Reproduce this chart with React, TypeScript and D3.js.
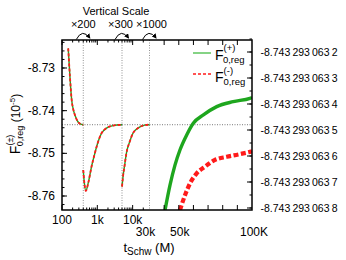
import * as d3 from "d3";

// early part, unscaled (left axis, units of 1e-5)
const seg1T = [150, 168, 188, 210, 232, 282, 330, 400];
const seg1F = [-8.7254, -8.7321, -8.7375, -8.7398, -8.741, -8.7426, -8.7431, -8.7433];

// x200 part (displayed values)
const seg2T = [400, 425, 474, 551, 686, 850, 1053, 1313, 1816, 2786, 5000];
const seg2F = [-8.7539, -8.7566, -8.7588, -8.757, -8.7531, -8.75, -8.7473, -8.7453, -8.7441, -8.7435, -8.7433];

// x300 part (displayed values)
const seg3T = [5000, 5330, 5950, 6650, 8240, 10200, 14100, 21800, 27000, 30000];
const seg3F = [-8.7578, -8.7555, -8.7527, -8.75, -8.7473, -8.7453, -8.7441, -8.7434, -8.7433, -8.7433];

// x1000 part, read on the right axis
const plusT = [40600, 44000, 47400, 50800, 55400, 59900, 66800, 75900, 87200, 98600, 100000];
const plusF = [
  -8.743293063808, -8.743293063712, -8.743293063635, -8.743293063577, -8.743293063519,
  -8.743293063474, -8.743293063442, -8.74329306341, -8.743293063391, -8.743293063378,
  -8.743293063375,
];
const minusT = [50800, 54300, 57700, 62200, 67900, 74700, 82700, 90700, 98600, 100000];
const minusF = [
  -8.743293063808, -8.74329306375, -8.743293063705, -8.743293063667, -8.743293063641,
  -8.743293063615, -8.743293063603, -8.743293063594, -8.743293063584, -8.743293063582,
];

const asymptote = -8.7432930635;

const leftTicks = [-8.73, -8.74, -8.75, -8.76];
const leftTickLabels = ["-8.73", "-8.74", "-8.75", "-8.76"];
const rightTicks = [
  -8.7432930632, -8.7432930633, -8.7432930634, -8.7432930635, -8.7432930636, -8.7432930637,
  -8.7432930638,
];
const rightTickLabels = [
  "-8.743 293 063 2", "-8.743 293 063 3", "-8.743 293 063 4", "-8.743 293 063 5",
  "-8.743 293 063 6", "-8.743 293 063 7", "-8.743 293 063 8",
];

const xMajor = [100, 1000, 10000, 40000, 50000, 60000, 70000, 80000, 90000];
const xMinor = [200, 300, 400, 500, 600, 700, 800, 900, 2000, 3000, 4000, 5000, 6000, 7000, 8000, 9000, 20000];
const xRow1 = [100, 1000, 10000];
const xRow1Labels = ["100", "1k", "10k"];
const xRow2 = [30000, 50000, 100000];
const xRow2Labels = ["30k", "50k", "100K"];

const breakT = [400, 5000, 30000];
const breakLabels = ["×200", "×300", "×1000"];

const W = 346;
const H = 260;
const L = 62;
const R = 252;
const T = 40;
const B = 210;
const font = "'Liberation Sans', Arial, Helvetica, sans-serif";

const xLog = d3.scaleLog().domain([100, 30000]).range([L, 149.5]);
const xLin = d3.scaleLinear().domain([30000, 100000]).range([149.5, R]);
const x = (t: number) => (t <= 30000 ? xLog(t) : xLin(t));

const yLeft = d3.scaleLinear().domain([-8.76328, -8.72344]).range([B, T]);
const yRight = d3
  .scaleLinear()
  .domain([-8.7432930638077, -8.7432930631538])
  .range([B, T]);

const green = "#1ea61e";
const red = "#ff1a1a";

function pathOf(ts: number[], fs: number[], y: (v: number) => number) {
  const line = d3
    .line<number>()
    .x((_, i) => x(ts[i]))
    .y((d) => y(d))
    .curve(d3.curveMonotoneX);
  return line(fs) || "";
}

export default function App() {
  const leftMinor = d3.range(-8.762, -8.7235, 0.002);
  const rightMinor = d3.range(0, 14).map((i) => -8.74329306315 - i * 0.5e-10);

  const early = [
    pathOf(seg1T, seg1F, yLeft),
    pathOf(seg2T, seg2F, yLeft),
    pathOf(seg3T, seg3F, yLeft),
  ];
  const plusPath = pathOf(plusT, plusF, yRight);
  const minusPath = pathOf(minusT, minusF, yRight);
  const labelShift = [0, -1.5, 2];

  return (
    <div style={{ position: "absolute", left: 0, top: 0 }}>
      <svg width={W} height={H} fontFamily={font}>
        <defs>
          <clipPath id="plot">
            <rect x={L} y={T} width={R - L} height={B - T} />
          </clipPath>
          <marker id="ah" viewBox="0 0 10 10" refX="8" refY="5" markerWidth="5" markerHeight="5" orient="auto">
            <path d="M0,0 L10,5 L0,10 z" fill="#000" />
          </marker>
        </defs>

        {/* break lines and asymptote */}
        {breakT.map((t) => (
          <line key={t} x1={x(t)} x2={x(t)} y1={T} y2={B} stroke="#777" strokeWidth={0.8} strokeDasharray="1 1.5" />
        ))}
        <line x1={L} x2={R} y1={yLeft(asymptote)} y2={yLeft(asymptote)} stroke="#555" strokeWidth={0.8} strokeDasharray="1 1.5" />

        <g clipPath="url(#plot)">
          {early.map((d, i) => (
            <g key={i}>
              <path d={d} fill="none" stroke={green} strokeWidth={1.4} />
              <path d={d} fill="none" stroke={red} strokeWidth={1.8} strokeDasharray="3 2" />
            </g>
          ))}
          <path d={plusPath} fill="none" stroke={green} strokeWidth={3.4} />
          <path d={minusPath} fill="none" stroke={red} strokeWidth={4.2} strokeDasharray="5 2.5" />
        </g>

        {/* x ticks, bottom and top */}
        {xMajor.map((t) => (
          <g key={"M" + t}>
            <line x1={x(t)} x2={x(t)} y1={B} y2={B - 5} stroke="#000" />
            <line x1={x(t)} x2={x(t)} y1={T} y2={T + 5} stroke="#000" />
          </g>
        ))}
        {xMinor.map((t) => (
          <g key={"m" + t}>
            <line x1={x(t)} x2={x(t)} y1={B} y2={B - 2.5} stroke="#000" />
            <line x1={x(t)} x2={x(t)} y1={T} y2={T + 2.5} stroke="#000" />
          </g>
        ))}

        {/* left ticks */}
        {leftMinor.map((v, i) => (
          <line key={"lm" + i} x1={L} x2={L + 2.5} y1={yLeft(v)} y2={yLeft(v)} stroke="#000" />
        ))}
        {leftTicks.map((v, i) => (
          <g key={"l" + i}>
            <line x1={L} x2={L + 5} y1={yLeft(v)} y2={yLeft(v)} stroke="#000" />
            <text x={L - 7} y={yLeft(v) + 4} fontSize={12} textAnchor="end">
              {leftTickLabels[i]}
            </text>
          </g>
        ))}

        {/* right ticks */}
        {rightMinor.map((v, i) => (
          <line key={"rm" + i} x1={R} x2={R - 2.5} y1={yRight(v)} y2={yRight(v)} stroke="#000" />
        ))}
        {rightTicks.map((v, i) => (
          <g key={"r" + i}>
            <line x1={R} x2={R - 5} y1={yRight(v)} y2={yRight(v)} stroke="#000" />
            <text x={R + 8.5} y={yRight(v) + 4} fontSize={10.5} wordSpacing={-0.8}>
              {rightTickLabels[i]}
            </text>
          </g>
        ))}

        <rect x={L} y={T} width={R - L} height={B - T} fill="none" stroke="#000" strokeWidth={1.5} />

        {/* x labels */}
        {xRow1.map((t, i) => (
          <text key={"x1" + t} x={x(t)} y={224} fontSize={12} textAnchor="middle">
            {xRow1Labels[i]}
          </text>
        ))}
        {xRow2.map((t, i) => (
          <text key={"x2" + t} x={x(t) + (i === 0 ? -4 : i === 2 ? 2 : 1)} y={236} fontSize={12} textAnchor="middle">
            {xRow2Labels[i]}
          </text>
        ))}
        <text x={149} y={252} fontSize={13} textAnchor="middle">
          t<tspan fontSize={10} dy={3}>Schw</tspan>
          <tspan dy={-3}> (M)</tspan>
        </text>

        {/* y title */}
        <text transform="translate(20,124) rotate(-90)" textAnchor="middle" fontSize={12}>
          <tspan fontSize={14}>F</tspan>
          <tspan fontSize={9} dy={-7}>(±)</tspan>
          <tspan fontSize={9} dx={-11.5} dy={10}>0,reg</tspan>
          <tspan dy={-3}> (10</tspan>
          <tspan fontSize={8} dy={-5}>-5</tspan>
          <tspan dy={5}>)</tspan>
        </text>

        {/* vertical scale annotation */}
        <text x={116} y={15} fontSize={11} textAnchor="middle">
          Vertical Scale
        </text>
        {breakT.map((t, i) => {
          const bx = x(t);
          return (
            <g key={"b" + t}>
              <text x={bx + labelShift[i]} y={28} fontSize={11} textAnchor="middle">
                {breakLabels[i]}
              </text>
              <path
                d={`M${bx - 7},${T - 0.5} Q${bx - 1},${T - 12} ${bx + 6.5},${T - 2}`}
                fill="none"
                stroke="#000"
                strokeWidth={1}
                markerEnd="url(#ah)"
              />
            </g>
          );
        })}

        {/* legend */}
        <line x1={193} x2={211} y1={53} y2={53} stroke="#5cc45c" strokeWidth={1.5} />
        <text x={215} y={60} fontSize={14}>
          F<tspan fontSize={9.5} dy={-9}>(+)</tspan>
          <tspan fontSize={9.5} dx={-12.5} dy={11.5}>0,reg</tspan>
        </text>
        <line x1={193} x2={211} y1={74} y2={74} stroke={red} strokeWidth={1.5} strokeDasharray="3 2" />
        <text x={215} y={82} fontSize={14}>
          F<tspan fontSize={9.5} dy={-8.5}>(-)</tspan>
          <tspan fontSize={9.5} dx={-9.5} dy={11.5}>0,reg</tspan>
        </text>
      </svg>
    </div>
  );
}
